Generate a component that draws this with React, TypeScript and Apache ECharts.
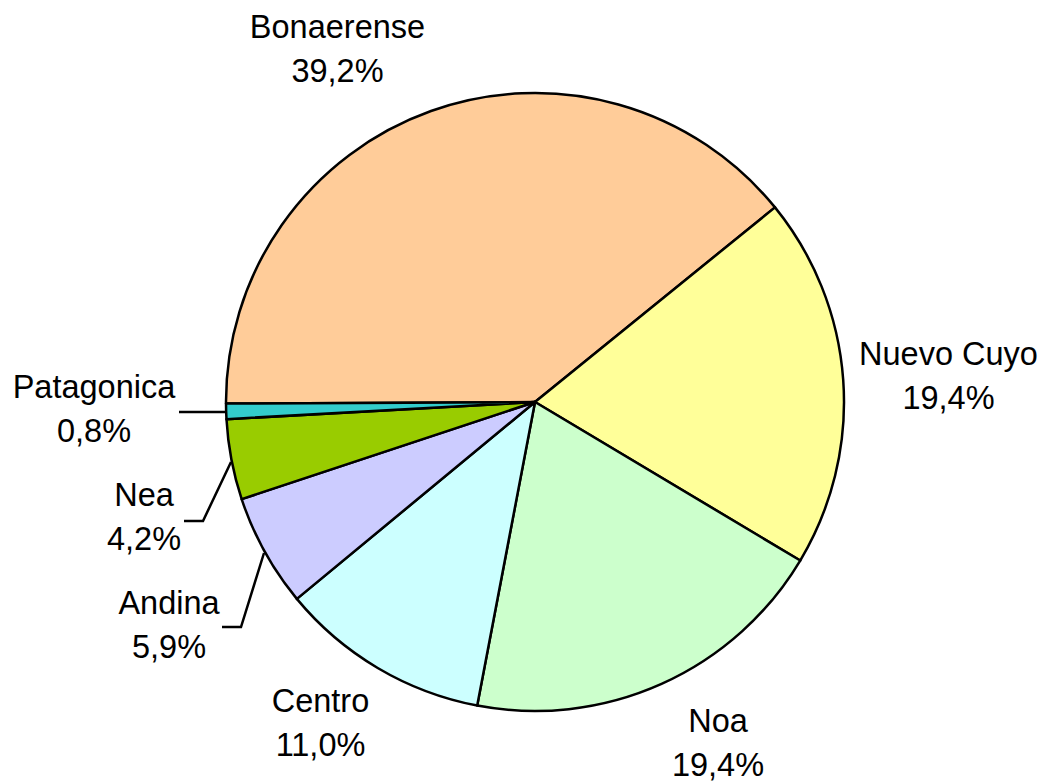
import React, { useEffect, useRef } from "react";
import * as echarts from "echarts";

const regions = ["Bonaerense", "Nuevo Cuyo", "Noa", "Centro", "Andina", "Nea", "Patagonica"];
const shares = [39.2, 19.4, 19.4, 11.0, 5.9, 4.2, 0.8];
const colors = ["#FFCC99", "#FFFF99", "#CCFFCC", "#CCFFFF", "#CCCCFF", "#99CC00", "#33CCCC"];
const hasLeader = [false, false, false, false, true, true, true];

// label anchor (center of two-line label) and leader-line points, in px
const labelPos: [number, number][] = [
  [337.5, 48.5],
  [948.5, 376],
  [718, 742.5],
  [320.5, 722.5],
  [169, 625],
  [144, 516.5],
  [94, 409],
];
const leaderPts: number[][][] = [
  [],
  [],
  [],
  [],
  [[264, 553], [241, 627], [222, 627]],
  [[231, 462], [203, 521], [184, 521]],
  [[227, 412], [203, 412], [179, 412]],
];

export default function App() {
  const ref = useRef<HTMLDivElement>(null);
  useEffect(() => {
    if (!ref.current) return;
    const chart = echarts.init(ref.current, null, { renderer: "svg" });
    chart.setOption({
      animation: false,
      backgroundColor: "#ffffff",
      series: [
        {
          type: "pie",
          center: [535, 402],
          radius: 309,
          startAngle: 180.3,
          clockwise: true,
          avoidLabelOverlap: false,
          itemStyle: { borderColor: "#000000", borderWidth: 2.5 },
          emphasis: { disabled: true },
          label: {
            show: true,
            position: "outside",
            fontFamily: "'Liberation Sans', Arial, sans-serif",
            fontSize: 32.5,
            lineHeight: 44,
            color: "#000000",
            align: "center",
            formatter: (p: any) =>
              p.name + "\n" + Number(p.value).toFixed(1).replace(".", ",") + "%",
          },
          labelLine: {
            show: true,
            lineStyle: { color: "#000000", width: 2.5 },
          },
          labelLayout: (params: any) => {
            const i = params.dataIndex;
            const res: any = {
              x: labelPos[i][0],
              y: labelPos[i][1],
              align: "center",
              verticalAlign: "middle",
            };
            if (hasLeader[i]) res.labelLinePoints = leaderPts[i];
            return res;
          },
          data: regions.map((name, i) => ({
            name,
            value: shares[i],
            itemStyle: { color: colors[i] },
            labelLine: { show: hasLeader[i] },
          })),
        },
      ],
    });
    return () => chart.dispose();
  }, []);
  return (
    <div
      ref={ref}
      style={{ position: "fixed", left: 0, top: 0, width: 1045, height: 781, background: "#fff" }}
    />
  );
}
